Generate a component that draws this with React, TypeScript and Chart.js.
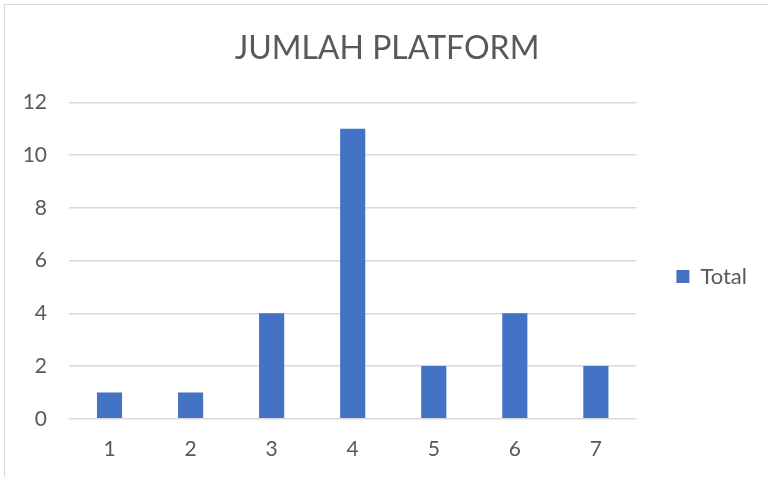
import React, { useEffect, useRef } from "react";
import { Chart, registerables } from "chart.js";

Chart.register(...registerables);

const categories = ["1", "2", "3", "4", "5", "6", "7"];
const totalValues = [1, 1, 4, 11, 2, 4, 2];
const seriesLabel = "Total";
const chartTitle = "JUMLAH PLATFORM";

const FONT = "Lato, 'Open Sans', sans-serif";
const TEXT = "#595959";

const boxShift = {
  id: "boxShift",
  afterLayout(chart: any) {
    const lg = chart.legend;
    if (lg) {
      lg.top += 26;
      lg.bottom += 26;
    }
    const tb = chart.titleBlock;
    if (tb) {
      tb.left += 8.5;
      tb.right += 8.5;
    }
  },
};

export default function App() {
  const ref = useRef<HTMLCanvasElement | null>(null);
  useEffect(() => {
    if (!ref.current) return;
    const chart = new Chart(ref.current, {
      type: "bar",
      data: {
        labels: categories,
        datasets: [
          {
            label: seriesLabel,
            data: totalValues,
            backgroundColor: "#4472C4",
            barPercentage: 0.31,
            categoryPercentage: 1,
          },
        ],
      },
      plugins: [boxShift],
      options: {
        animation: false,
        responsive: false,
        layout: { padding: { left: 0, right: 11, top: 29, bottom: 5 } },
        plugins: {
          title: {
            display: true,
            text: chartTitle,
            color: TEXT,
            font: { family: FONT, size: 32, weight: "normal" },
            padding: { top: 0, bottom: 35 },
          },
          legend: {
            position: "right",
            labels: {
              color: TEXT,
              font: { family: FONT, size: 22 },
              boxWidth: 13,
              boxHeight: 13,
              padding: 40,
            },
          },
          tooltip: { enabled: false },
        },
        scales: {
          x: {
            grid: { display: false },
            border: { display: false },
            ticks: { color: TEXT, font: { family: FONT, size: 21 }, padding: 10 },
          },
          y: {
            min: 0,
            max: 12,
            ticks: { stepSize: 2, color: TEXT, font: { family: FONT, size: 21 }, padding: 22 },
            grid: { color: "#d9d9d9", lineWidth: 1.5, drawTicks: false },
            border: { display: false },
            afterFit: (scale: any) => {
              scale.width = 69;
            },
          },
        },
      },
    });
    return () => chart.destroy();
  }, []);
  return (
    <div style={{ position: "fixed", left: 0, top: 0, width: 768, height: 477, overflow: "hidden", background: "#fff" }}>
      <div style={{ position: "absolute", left: 4, top: 4, width: 800, height: 520, border: "1.5px solid #d9d9d9", boxSizing: "border-box" }} />
      <canvas ref={ref} width={768} height={477} style={{ position: "absolute", left: 0, top: 0 }} />
    </div>
  );
}
